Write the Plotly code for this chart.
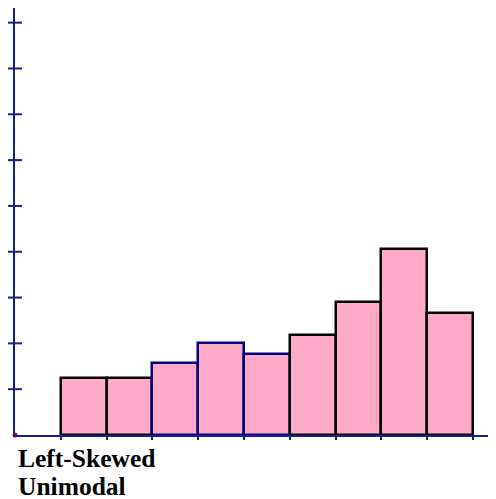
import plotly.graph_objects as go

# Data
bin_left = [1, 2, 3, 4, 5, 6, 7, 8, 9]
heights = [1.24, 1.24, 1.58, 2.0, 1.76, 2.18, 2.9, 4.06, 2.66]
edge_colors = ["black", "black", "#000080", "#000080", "#000080", "black", "black", "black", "black"]
y_ticks = [1, 2, 3, 4, 5, 6, 7, 8, 9]
x_ticks = [1, 2, 3, 4, 5, 6, 7, 8, 9, 10]
label_lines = ["Left-Skewed", "Unimodal"]

NAVY = "#1c1c8c"

fig = go.Figure()
fig.add_trace(go.Bar(
    x=[b + 0.5 for b in bin_left], y=heights, width=1,
    marker=dict(color="#FFAAC8", line=dict(color=edge_colors, width=2.5)),
    hoverinfo="skip",
))
# y-axis cross ticks
fig.add_trace(go.Scatter(
    x=[0] * len(y_ticks), y=y_ticks, mode="markers",
    marker=dict(symbol="line-ew", size=10, line=dict(color=NAVY, width=2)),
    cliponaxis=False, hoverinfo="skip",
))
# origin dot
fig.add_trace(go.Scatter(
    x=[0], y=[0], mode="markers",
    marker=dict(color="#e00000", size=5), cliponaxis=False, hoverinfo="skip",
))

fig.add_annotation(x=0.004, y=-0.0545, xref="paper", yref="paper", text="<b>" + label_lines[0] + "</b>",
                   showarrow=False, xanchor="left", yanchor="middle", borderpad=0,
                   font=dict(family="Liberation Serif", size=25.5, color="black"))
fig.add_annotation(x=0.004, y=-0.1215, xref="paper", yref="paper", text="<b>" + label_lines[1] + "</b>",
                   showarrow=False, xanchor="left", yanchor="middle", borderpad=0,
                   font=dict(family="Liberation Serif", size=25.5, color="black"))

fig.update_layout(
    width=488, height=491,
    margin=dict(l=7, r=0, t=0, b=64, autoexpand=False),
    plot_bgcolor="white", paper_bgcolor="white",
    showlegend=False, bargap=0,
    xaxis=dict(range=[0, 10.5], showgrid=False, zeroline=False, showline=True,
               linecolor=NAVY, linewidth=2, tickvals=x_ticks, ticks="outside",
               ticklen=3, tickwidth=1.5, tickcolor=NAVY, showticklabels=False),
    yaxis=dict(range=[0, 9.32], showgrid=False, zeroline=False, showline=True,
               linecolor=NAVY, linewidth=2, showticklabels=False, ticks=""),
)

fig.write_html("out.html")
